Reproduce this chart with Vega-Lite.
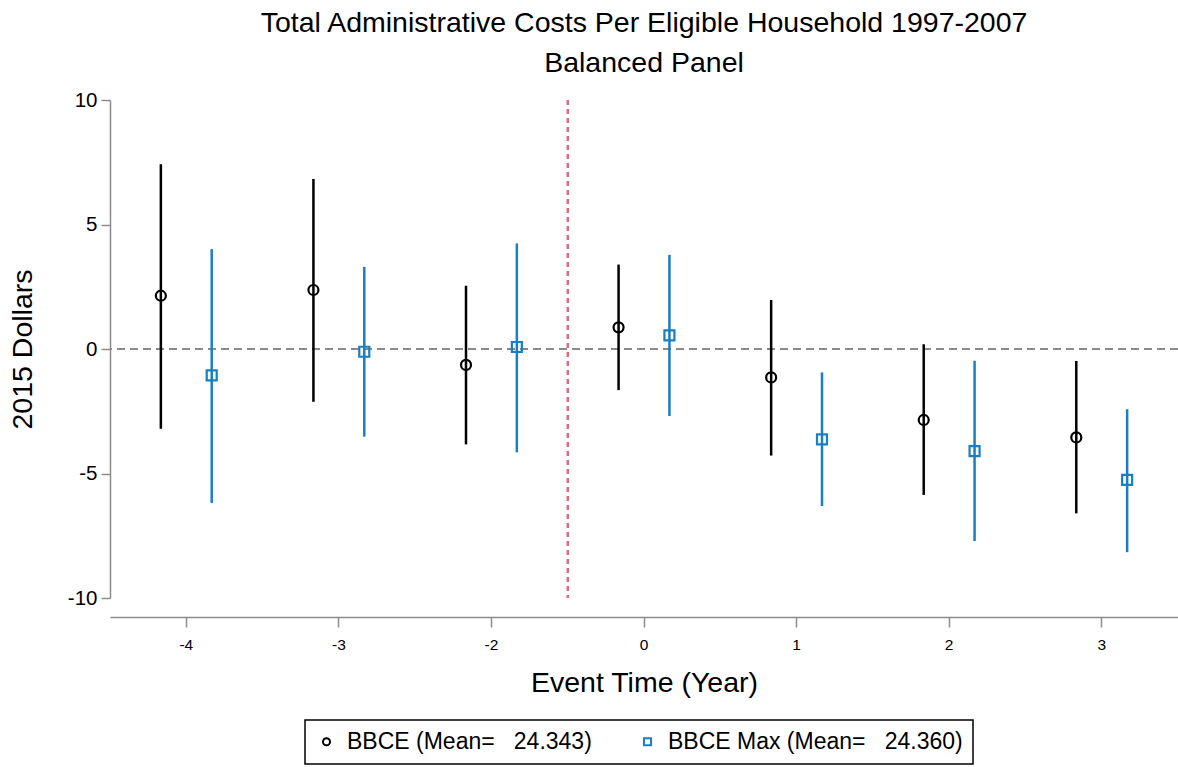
{
  "$schema": "https://vega.github.io/schema/vega-lite/v6.json",
  "width": 1068,
  "height": 498,
  "autosize": {"type": "none"},
  "padding": {"left": 110, "top": 100, "right": 0, "bottom": 169},
  "background": "white",
  "config": {
    "font": "Liberation Sans",
    "view": {"stroke": null},
    "legend": {
      "orient": "none", "legendX": 195, "legendY": 620, "direction": "horizontal",
      "strokeColor": "black", "strokeWidth": 1.5, "padding": 10,
      "labelFontSize": 23, "labelColor": "black", "labelLimit": 400, "labelOffset": 9,
      "symbolSize": 50, "symbolStrokeWidth": 2, "columnPadding": 44, "title": null
    }
  },
  "title": {
    "text": ["Total Administrative Costs Per Eligible Household 1997-2007", "Balanced Panel"],
    "fontSize": 28.5, "fontWeight": "normal", "color": "black", "anchor": "middle", "offset": 13, "lineHeight": 40
  },
  "data": {"values": [
    {"event": "-4", "series": "BBCE (Mean=\u00a0\u00a0\u00a024.343)", "est": 2.14, "lo": -3.20, "hi": 7.42},
    {"event": "-3", "series": "BBCE (Mean=\u00a0\u00a0\u00a024.343)", "est": 2.37, "lo": -2.12, "hi": 6.83},
    {"event": "-2", "series": "BBCE (Mean=\u00a0\u00a0\u00a024.343)", "est": -0.64, "lo": -3.83, "hi": 2.54},
    {"event": "0", "series": "BBCE (Mean=\u00a0\u00a0\u00a024.343)", "est": 0.87, "lo": -1.65, "hi": 3.39},
    {"event": "1", "series": "BBCE (Mean=\u00a0\u00a0\u00a024.343)", "est": -1.14, "lo": -4.28, "hi": 1.97},
    {"event": "2", "series": "BBCE (Mean=\u00a0\u00a0\u00a024.343)", "est": -2.85, "lo": -5.86, "hi": 0.19},
    {"event": "3", "series": "BBCE (Mean=\u00a0\u00a0\u00a024.343)", "est": -3.55, "lo": -6.60, "hi": -0.48},
    {"event": "-4", "series": "BBCE Max (Mean=\u00a0\u00a0\u00a024.360)", "est": -1.06, "lo": -6.18, "hi": 4.01},
    {"event": "-3", "series": "BBCE Max (Mean=\u00a0\u00a0\u00a024.360)", "est": -0.11, "lo": -3.52, "hi": 3.30},
    {"event": "-2", "series": "BBCE Max (Mean=\u00a0\u00a0\u00a024.360)", "est": 0.08, "lo": -4.15, "hi": 4.24},
    {"event": "0", "series": "BBCE Max (Mean=\u00a0\u00a0\u00a024.360)", "est": 0.55, "lo": -2.69, "hi": 3.78},
    {"event": "1", "series": "BBCE Max (Mean=\u00a0\u00a0\u00a024.360)", "est": -3.63, "lo": -6.31, "hi": -0.94},
    {"event": "2", "series": "BBCE Max (Mean=\u00a0\u00a0\u00a024.360)", "est": -4.10, "lo": -7.71, "hi": -0.47},
    {"event": "3", "series": "BBCE Max (Mean=\u00a0\u00a0\u00a024.360)", "est": -5.26, "lo": -8.16, "hi": -2.42}
  ]},
  "encoding": {
    "x": {
      "field": "event", "type": "ordinal",
      "sort": ["-4", "-3", "-2", "0", "1", "2", "3"],
      "scale": {"domain": ["-4", "-3", "-2", "0", "1", "2", "3"], "paddingInner": 0, "paddingOuter": 0},
      "title": "Event Time (Year)",
      "axis": {
        "labelAngle": 0, "offset": 19, "grid": false,
        "domainColor": "#8c8c8c", "tickColor": "#8c8c8c", "tickSize": 10, "domainWidth": 1.5, "tickWidth": 1.5,
        "labelFontSize": 15.5, "labelColor": "black", "labelPadding": 10,
        "titleFontSize": 28.5, "titleFontWeight": "normal", "titleColor": "black", "titlePadding": 16
      }
    }
  },
  "layer": [
    {
      "mark": {"type": "rule", "strokeDash": [8, 5], "color": "#8a8a8a", "strokeWidth": 2},
      "encoding": {
        "x": null,
        "y": {
          "datum": 0, "type": "quantitative",
          "scale": {"domain": [-10, 10], "nice": false, "zero": false},
          "title": "2015 Dollars",
          "axis": {
            "values": [-10, -5, 0, 5, 10], "offset": 0, "grid": false,
            "labelExpr": "toString(datum.value)",
            "domainColor": "#8c8c8c", "tickColor": "#8c8c8c", "tickSize": 9, "domainWidth": 1.5, "tickWidth": 1.5,
            "labelFontSize": 20.5, "labelColor": "black", "labelPadding": 4,
            "titleFontSize": 28.5, "titleFontWeight": "normal", "titleColor": "black", "titlePadding": 30
          }
        }
      }
    },
    {
      "mark": {"type": "rule", "strokeDash": [5, 4], "color": "#dc6a80", "strokeWidth": 1.5},
      "encoding": {
        "x": {"datum": "0", "type": "ordinal", "bandPosition": 0}
      }
    },
    {
      "mark": {"type": "rule", "strokeWidth": 2.5},
      "encoding": {
        "xOffset": {"field": "series", "type": "nominal", "scale": {"type": "point", "padding": 1}},
        "y": {"field": "lo", "type": "quantitative", "title": "2015 Dollars"},
        "y2": {"field": "hi"},
        "stroke": {"field": "series", "type": "nominal", "legend": null,
          "scale": {"range": ["black", "#1a7fc1"]}}
      }
    },
    {
      "mark": {"type": "point", "filled": false, "strokeWidth": 2.2, "size": 100, "opacity": 1},
      "encoding": {
        "xOffset": {"field": "series", "type": "nominal"},
        "y": {"field": "est", "type": "quantitative", "title": "2015 Dollars"},
        "color": {"field": "series", "type": "nominal", "title": null,
          "scale": {"range": ["black", "#1a7fc1"]}},
        "shape": {"field": "series", "type": "nominal", "title": null,
          "scale": {"range": ["circle", "square"]}}
      }
    }
  ]
}
